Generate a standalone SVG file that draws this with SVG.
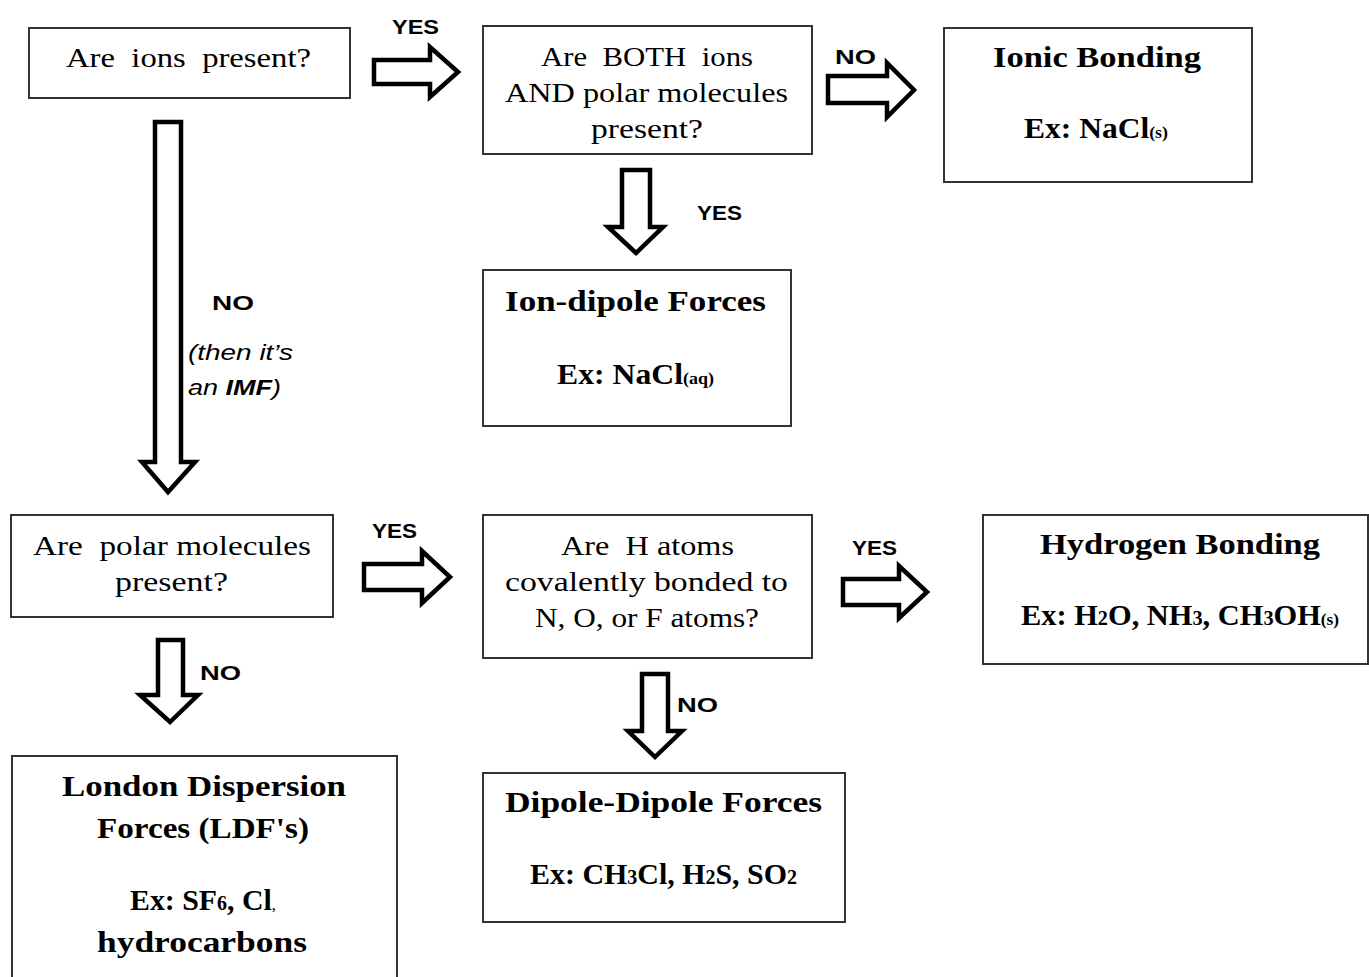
<svg xmlns="http://www.w3.org/2000/svg" width="1369" height="977" viewBox="0 0 1369 977">
<style>
.box{fill:#fff;stroke:#333;stroke-width:2}
.arr{fill:#fff;stroke:#000;stroke-width:4.5;stroke-linejoin:miter}
.t{font-family:"Liberation Serif","DejaVu Serif",serif;font-size:27px;fill:#000}
.b{font-family:"Liberation Serif","DejaVu Serif",serif;font-size:30px;font-weight:bold;fill:#000}
.lab{font-family:"Liberation Sans","Open Sans",sans-serif;font-size:21px;font-weight:bold;fill:#000}
.it{font-family:"Liberation Sans","Open Sans",sans-serif;font-size:22px;font-style:italic;fill:#000}
.sub{font-size:20px}
.sm{font-size:17px}
</style>
<rect width="1369" height="977" fill="#fff"/>
<g id="connectors">
<path class="arr" d="M374,60 H430 V47 L458,72 L430,97 V84 H374 Z"/>
<path class="arr" d="M828,76 H887 V63 L914,90 L887,117 V103 H828 Z"/>
<path class="arr" d="M622,170 V227 H608 L636,253 L663,227 H650 V170 Z"/>
<path class="arr" d="M155,122 V462 H142 L168,492 L195,462 H181 V122 Z"/>
<path class="arr" d="M364,564 H422 V551 L450,577 L422,603 V590 H364 Z"/>
<path class="arr" d="M843,579 H899 V566 L927,592 L899,618 V605 H843 Z"/>
<path class="arr" d="M158,640 V695 H140 L170,722 L198,695 H183 V640 Z"/>
<path class="arr" d="M642,674 V731 H628 L655,757 L682,731 H668 V674 Z"/>
<text class="lab" x="392" y="34" textLength="47" lengthAdjust="spacingAndGlyphs">YES</text>
<text class="lab" x="835" y="64" textLength="41" lengthAdjust="spacingAndGlyphs">NO</text>
<text class="lab" x="697" y="220" textLength="45" lengthAdjust="spacingAndGlyphs">YES</text>
<text class="lab" x="212" y="310" textLength="42" lengthAdjust="spacingAndGlyphs">NO</text>
<text class="it" x="188" y="360" textLength="105" lengthAdjust="spacingAndGlyphs">(then it’s</text>
<text class="it" x="188" y="395" textLength="93" lengthAdjust="spacingAndGlyphs">an <tspan font-weight="bold">IMF</tspan>)</text>
<text class="lab" x="372" y="538" textLength="45" lengthAdjust="spacingAndGlyphs">YES</text>
<text class="lab" x="852" y="555" textLength="45" lengthAdjust="spacingAndGlyphs">YES</text>
<text class="lab" x="200" y="680" textLength="41" lengthAdjust="spacingAndGlyphs">NO</text>
<text class="lab" x="677" y="712" textLength="41" lengthAdjust="spacingAndGlyphs">NO</text>
</g>
<g id="n1">
<rect class="box" x="29" y="28" width="321" height="70"/>
<text class="t" x="66" y="67" textLength="245" lengthAdjust="spacingAndGlyphs" xml:space="preserve">Are  ions  present?</text>
</g>
<g id="n2">
<rect class="box" x="483" y="26" width="329" height="128"/>
<text class="t" x="541" y="66" textLength="212" lengthAdjust="spacingAndGlyphs" xml:space="preserve">Are  BOTH  ions</text>
<text class="t" x="505" y="102" textLength="283" lengthAdjust="spacingAndGlyphs">AND polar molecules</text>
<text class="t" x="591" y="138" textLength="112" lengthAdjust="spacingAndGlyphs">present?</text>
</g>
<g id="n3">
<rect class="box" x="944" y="28" width="308" height="154"/>
<text class="b" x="993" y="67" textLength="208" lengthAdjust="spacingAndGlyphs">Ionic Bonding</text>
<text class="b" x="1024" y="138" textLength="144" lengthAdjust="spacingAndGlyphs">Ex: NaCl<tspan class="sm">(s)</tspan></text>
</g>
<g id="n4">
<rect class="box" x="483" y="270" width="308" height="156"/>
<text class="b" x="505" y="311" textLength="261" lengthAdjust="spacingAndGlyphs">Ion-dipole Forces</text>
<text class="b" x="557" y="384" textLength="157" lengthAdjust="spacingAndGlyphs">Ex: NaCl<tspan class="sm">(aq)</tspan></text>
</g>
<g id="n5">
<rect class="box" x="11" y="515" width="322" height="102"/>
<text class="t" x="33" y="555" textLength="278" lengthAdjust="spacingAndGlyphs" xml:space="preserve">Are  polar molecules</text>
<text class="t" x="115" y="591" textLength="113" lengthAdjust="spacingAndGlyphs">present?</text>
</g>
<g id="n6">
<rect class="box" x="483" y="515" width="329" height="143"/>
<text class="t" x="561" y="555" textLength="173" lengthAdjust="spacingAndGlyphs" xml:space="preserve">Are  H atoms</text>
<text class="t" x="505" y="591" textLength="283" lengthAdjust="spacingAndGlyphs">covalently bonded to</text>
<text class="t" x="535" y="627" textLength="224" lengthAdjust="spacingAndGlyphs">N, O, or F atoms?</text>
</g>
<g id="n7">
<rect class="box" x="983" y="515" width="385" height="149"/>
<text class="b" x="1040" y="554" textLength="280" lengthAdjust="spacingAndGlyphs">Hydrogen Bonding</text>
<text class="b" x="1021" y="625" textLength="318" lengthAdjust="spacingAndGlyphs">Ex: H<tspan class="sub">2</tspan>O, NH<tspan class="sub">3</tspan>, CH<tspan class="sub">3</tspan>OH<tspan class="sm">(s)</tspan></text>
</g>
<g id="n8">
<rect class="box" x="12" y="756" width="385" height="230"/>
<text class="b" x="62" y="796" textLength="284" lengthAdjust="spacingAndGlyphs">London Dispersion</text>
<text class="b" x="97" y="838" textLength="212" lengthAdjust="spacingAndGlyphs">Forces (LDF's)</text>
<text class="b" x="130" y="910" textLength="146" lengthAdjust="spacingAndGlyphs">Ex: SF<tspan class="sub">6</tspan>, Cl<tspan class="sm" font-weight="normal">,</tspan></text>
<text class="b" x="97" y="952" textLength="210" lengthAdjust="spacingAndGlyphs">hydrocarbons</text>
</g>
<g id="n9">
<rect class="box" x="483" y="773" width="362" height="149"/>
<text class="b" x="505" y="812" textLength="317" lengthAdjust="spacingAndGlyphs">Dipole-Dipole Forces</text>
<text class="b" x="530" y="884" textLength="267" lengthAdjust="spacingAndGlyphs">Ex: CH<tspan class="sub">3</tspan>Cl, H<tspan class="sub">2</tspan>S, SO<tspan class="sub">2</tspan></text>
</g>
</svg>
